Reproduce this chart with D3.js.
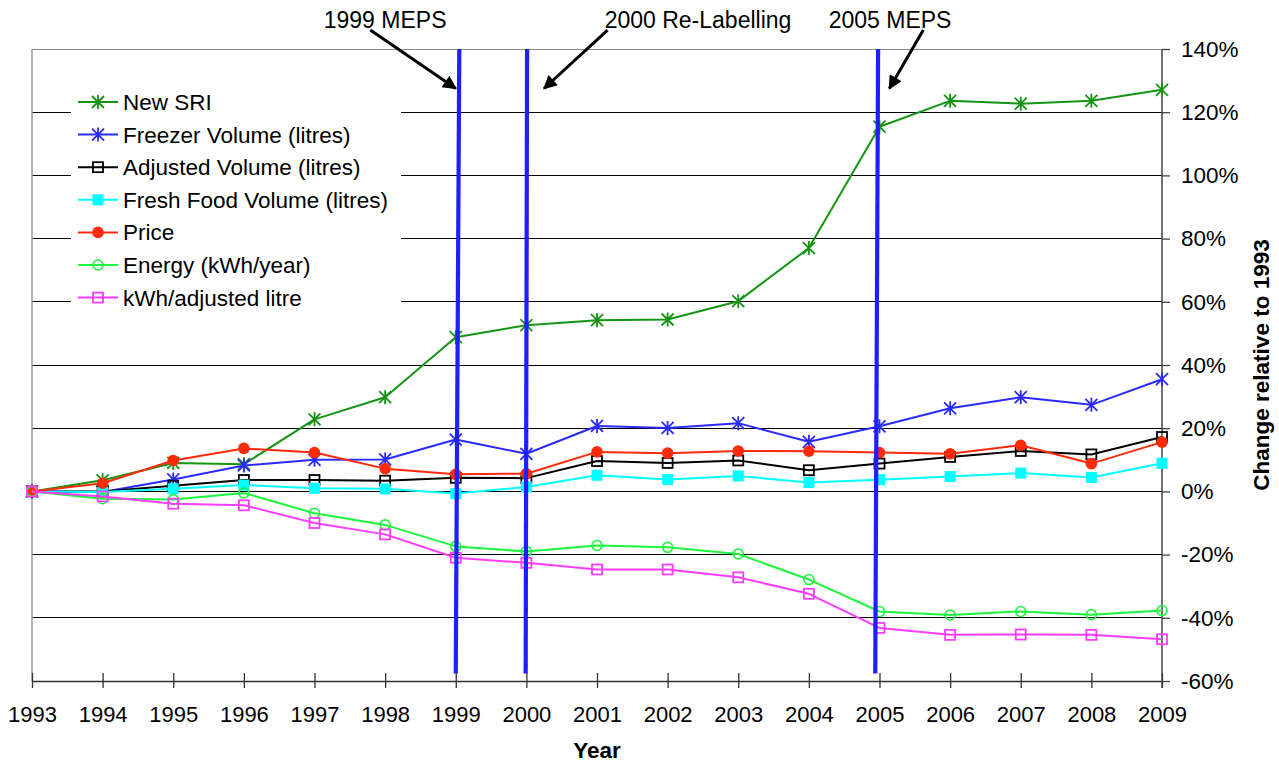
<!DOCTYPE html>
<html>
<head>
<meta charset="utf-8">
<script src="https://cdn.jsdelivr.net/npm/d3@7/dist/d3.min.js"></script>
<style>
  html, body { margin: 0; padding: 0; background: #fff; }
  svg { display: block; font-family: "Liberation Sans", Arial, sans-serif; }
</style>
</head>
<body>
<svg id="chart" width="1279" height="762"></svg>
<script>
// Years on the horizontal axis
const years = [1993, 1994, 1995, 1996, 1997, 1998, 1999, 2000, 2001,
               2002, 2003, 2004, 2005, 2006, 2007, 2008, 2009];

// Change relative to 1993, in percent
const newSRI        = [0, 3.5, 9.0, 8.6, 22.8, 29.8, 48.8, 52.6, 54.2, 54.4, 60.2, 77.0, 115.4, 123.6, 122.7, 123.6, 127.1];
const freezerVolume = [0, -0.2, 3.8, 8.2, 10.0, 10.1, 16.4, 11.9, 20.7, 20.1, 21.6, 15.7, 20.6, 26.3, 29.8, 27.4, 35.5];
const adjustedVolume= [0, 0, 1.8, 3.6, 3.6, 3.4, 4.3, 4.2, 9.6, 9.0, 9.8, 6.7, 8.8, 10.9, 12.8, 11.7, 17.2];
const freshFood     = [0, -0.2, 0.8, 2.0, 1.0, 0.8, -0.7, 1.4, 5.1, 3.8, 4.9, 2.8, 3.7, 4.7, 5.8, 4.4, 8.9];
const price         = [0, 2.6, 9.8, 13.6, 12.3, 7.2, 5.4, 5.6, 12.5, 12.1, 12.8, 12.7, 12.3, 11.9, 14.6, 8.8, 15.6];
const energy        = [0, -2.3, -2.6, -0.5, -6.9, -10.6, -17.4, -19.0, -17.1, -17.7, -19.8, -27.9, -38.0, -39.1, -38.0, -39.0, -37.7];
const kwhPerLitre   = [0, -1.6, -3.9, -4.4, -10.0, -13.6, -21.0, -22.6, -24.7, -24.7, -27.2, -32.4, -43.2, -45.4, -45.3, -45.4, -46.8];

// Right-hand axis ticks
const yTicks = [140, 120, 100, 80, 60, 40, 20, 0, -20, -40, -60];

// Series definitions (legend and draw order)
const series = [
  { name: "New SRI",                    values: newSRI,         color: "#139413", marker: "asterisk" },
  { name: "Freezer Volume (litres)",    values: freezerVolume,  color: "#2a2aff", marker: "asterisk" },
  { name: "Adjusted Volume (litres)",   values: adjustedVolume, color: "#000000", marker: "openSquare" },
  { name: "Fresh Food Volume (litres)", values: freshFood,      color: "#00ffff", marker: "filledSquare" },
  { name: "Price",                      values: price,          color: "#ff2a0a", marker: "filledCircle" },
  { name: "Energy (kWh/year)",          values: energy,         color: "#1cf63c", marker: "openCircle" },
  { name: "kWh/adjusted litre",         values: kwhPerLitre,    color: "#ff3cff", marker: "openSquare" }
];

// Policy events marked with vertical bars and arrowed captions
const eventLabels = ["1999 MEPS", "2000 Re-Labelling", "2005 MEPS"];
const eventYearTop    = [1999.05, 2000.01, 2004.98];
const eventYearBottom = [1999.00, 1999.99, 2004.94];
const eventLabelYear  = [1998.0, 2002.43, 2005.15];
const arrowFrom = [[1997.79, 146], [2001.15, 146], [2005.62, 146]];
const arrowTo   = [[1999.0, 127.5], [2000.25, 127.5], [2005.14, 127.5]];

const svg = d3.select("#chart");
const margin = { left: 32, right: 117, top: 49, bottom: 81 };
const W = 1279, H = 762;

const x = d3.scaleLinear().domain([1993, 2009]).range([margin.left, W - margin.right]);
const y = d3.scaleLinear().domain([-60, 140]).range([H - margin.bottom, margin.top]);

// Horizontal gridlines
svg.append("g").selectAll("line")
  .data(yTicks.filter(t => t !== 140 && t !== -60))
  .join("line")
  .attr("x1", x(1993)).attr("x2", x(2009))
  .attr("y1", d => y(d)).attr("y2", d => y(d))
  .attr("stroke", "#000").attr("stroke-width", 1)
  .attr("shape-rendering", "crispEdges");

// Top and left plot frame (grey)
svg.append("line")
  .attr("x1", x(1993)).attr("x2", x(2009)).attr("y1", y(140)).attr("y2", y(140))
  .attr("stroke", "#8c8c8c").attr("shape-rendering", "crispEdges");
svg.append("line")
  .attr("x1", x(1993)).attr("x2", x(1993)).attr("y1", y(140)).attr("y2", y(-60))
  .attr("stroke", "#9a9a9a").attr("stroke-width", 1.5);

// Bottom axis
const xAxis = d3.axisBottom(x)
  .tickValues(years)
  .tickFormat(d3.format("d"))
  .tickSizeInner(0).tickSizeOuter(0).tickPadding(0);
const gx = svg.append("g").attr("transform", `translate(0,${y(-60)})`).call(xAxis);
gx.select(".domain").attr("stroke", "#333").attr("stroke-width", 1.5);
gx.selectAll(".tick text").remove();
gx.selectAll(".tick").append("line")
  .attr("y1", -8).attr("y2", 7).attr("stroke", "#333").attr("stroke-width", 1.3);
gx.selectAll(".tick").append("text")
  .attr("y", 41).attr("text-anchor", "middle")
  .attr("fill", "#000").attr("font-size", 22)
  .attr("font-family", "Liberation Sans, Arial, sans-serif")
  .text(d => d);

// Right axis
const yAxis = d3.axisRight(y)
  .tickValues(yTicks)
  .tickFormat(d => d + "%")
  .tickSizeInner(8).tickSizeOuter(0).tickPadding(11);
const gy = svg.append("g").attr("transform", `translate(${x(2009)},0)`).call(yAxis);
gy.select(".domain").attr("stroke", "#444").attr("stroke-width", 1.5)
  .attr("d", `M0,${y(140)}V${y(-60) + 7}`);
gy.selectAll(".tick line").attr("stroke", "#444").attr("stroke-width", 1.3);
gy.selectAll(".tick text")
  .attr("fill", "#000").attr("font-size", 22.5)
  .attr("font-family", "Liberation Sans, Arial, sans-serif");

// Axis titles
svg.append("text")
  .attr("x", 597).attr("y", 758)
  .attr("text-anchor", "middle").attr("font-weight", "bold").attr("font-size", 22.5)
  .text("Year");
svg.append("text")
  .attr("transform", `translate(1269,${y(40)}) rotate(-90)`)
  .attr("text-anchor", "middle").attr("font-weight", "bold").attr("font-size", 22.5)
  .text("Change relative to 1993");

// Marker drawing
function drawMarker(g, type, color) {
  if (type === "asterisk") {
    const r = 6;
    g.append("path")
      .attr("d", `M${-r},${-r}L${r},${r}M${-r},${r}L${r},${-r}M0,${-r - 1}V${r + 1}`)
      .attr("stroke", color).attr("stroke-width", 1.8).attr("fill", "none");
  } else if (type === "openSquare") {
    g.append("rect").attr("x", -5).attr("y", -5).attr("width", 10).attr("height", 10)
      .attr("fill", "none").attr("stroke", color).attr("stroke-width", 1.8);
  } else if (type === "filledSquare") {
    g.append("rect").attr("x", -5.5).attr("y", -5.5).attr("width", 11).attr("height", 11)
      .attr("fill", color).attr("stroke", "none");
  } else if (type === "filledCircle") {
    g.append("circle").attr("r", 5.8).attr("fill", color);
  } else if (type === "openCircle") {
    g.append("circle").attr("r", 5).attr("fill", "none")
      .attr("stroke", color).attr("stroke-width", 1.6);
  }
}

// Series lines and markers
const line = d3.line().x((d, i) => x(years[i])).y(d => y(d));
const gSeries = svg.append("g");
series.forEach(s => {
  gSeries.append("path")
    .attr("d", line(s.values))
    .attr("fill", "none").attr("stroke", s.color).attr("stroke-width", 2)
    .attr("stroke-linejoin", "round");
  s.values.forEach((v, i) => {
    const m = gSeries.append("g").attr("transform", `translate(${x(years[i])},${y(v)})`);
    drawMarker(m, s.marker, s.color);
  });
});

// Legend (white panel over the gridlines)
const legend = svg.append("g");
legend.append("rect")
  .attr("x", 71).attr("y", 84).attr("width", 330).attr("height", 232)
  .attr("fill", "#fff");
series.forEach((s, i) => {
  const cy = 102 + i * 32.6;
  legend.append("line")
    .attr("x1", 78).attr("x2", 118).attr("y1", cy).attr("y2", cy)
    .attr("stroke", s.color).attr("stroke-width", 2);
  const m = legend.append("g").attr("transform", `translate(98,${cy})`);
  drawMarker(m, s.marker, s.color);
  legend.append("text")
    .attr("x", 123).attr("y", cy + 8)
    .attr("font-size", 22.5).attr("fill", "#000")
    .text(s.name);
});

// Event bars
const gEvents = svg.append("g");
eventLabels.forEach((label, i) => {
  gEvents.append("line")
    .attr("x1", x(eventYearTop[i])).attr("y1", y(140))
    .attr("x2", x(eventYearBottom[i])).attr("y2", y(-57.6))
    .attr("stroke", "#1e1eff").attr("stroke-width", 4.2);
});

// Arrow heads
svg.append("defs").append("marker")
  .attr("id", "arrowHead")
  .attr("viewBox", "0 0 10 10")
  .attr("refX", 9).attr("refY", 5)
  .attr("markerWidth", 5.2).attr("markerHeight", 4.6)
  .attr("markerUnits", "strokeWidth")
  .attr("orient", "auto")
  .append("path").attr("d", "M0,0L10,5L0,10Z").attr("fill", "#000");

eventLabels.forEach((label, i) => {
  svg.append("line")
    .attr("x1", x(arrowFrom[i][0])).attr("y1", y(arrowFrom[i][1]))
    .attr("x2", x(arrowTo[i][0])).attr("y2", y(arrowTo[i][1]))
    .attr("stroke", "#000").attr("stroke-width", 3)
    .attr("marker-end", "url(#arrowHead)");
  svg.append("text")
    .attr("x", x(eventLabelYear[i])).attr("y", 28)
    .attr("text-anchor", "middle").attr("font-size", 23).attr("fill", "#000")
    .text(label);
});
</script>
</body>
</html>
